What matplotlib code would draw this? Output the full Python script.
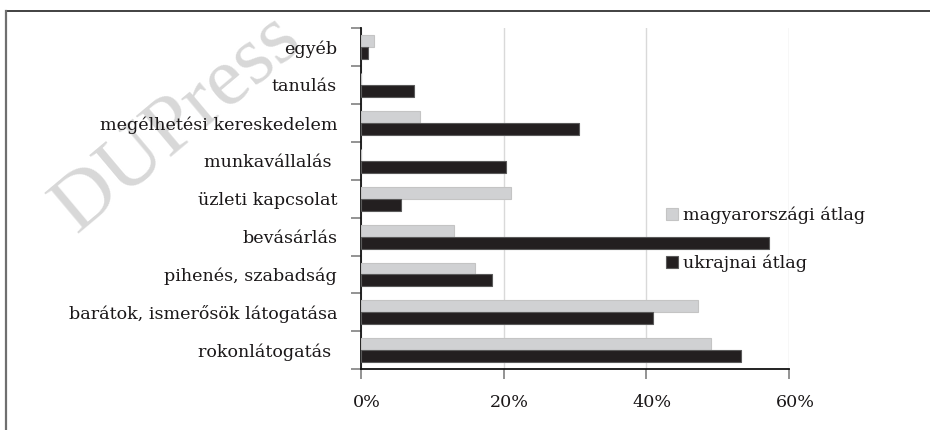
import numpy as np
import matplotlib
matplotlib.use("Agg")
import matplotlib.pyplot as plt
from matplotlib.ticker import PercentFormatter
from matplotlib.transforms import ScaledTranslation
from matplotlib.lines import Line2D

# data (percent of respondents)
categories = ["egyéb", "tanulás", "megélhetési kereskedelem", "munkavállalás ",
              "üzleti kapcsolat", "bevásárlás", "pihenés, szabadság",
              "barátok, ismerősök látogatása", "rokonlátogatás "]
magyar = [1.9, 0.0, 8.3, 0.0, 21.1, 13.0, 16.0, 47.2, 49.1]
ukran = [1.0, 7.4, 30.5, 20.3, 5.7, 57.1, 18.4, 40.9, 53.3]
series_names = ["magyarországi átlag", "ukrajnai átlag"]

plt.rcParams['font.family'] = ['DejaVu Serif']
plt.rcParams['font.size'] = 12.6

W, H = 930, 430
fig = plt.figure(figsize=(W / 100, H / 100), dpi=100)

# axes box in pixels
x0, x1, ytop, ybot = 360.7, 789.3, 28.0, 369.3
ax = fig.add_axes([x0 / W, 1 - ybot / H, (x1 - x0) / W, (ybot - ytop) / H])
ax.set_facecolor('none')

y = np.arange(len(categories))
h = 0.316
ax.barh(y - h / 2, magyar, height=h, color='#d0d1d3', edgecolor='#c4c4c4',
        linewidth=0.8, label=series_names[0], zorder=3)
ax.barh(y + h / 2, ukran, height=h, color='#231f20', edgecolor='#5a5a5a',
        linewidth=0.8, label=series_names[1], zorder=3)

ax.set_xlim(0, 60)
ax.set_ylim(len(categories) - 0.5, -0.5)

ax.set_xticks([0, 20, 40, 60])
ax.xaxis.set_major_formatter(PercentFormatter(decimals=0))
ax.grid(axis='x', color='#d9d9d9', linewidth=1.0, zorder=0)
ax.set_axisbelow(True)

ax.set_yticks(y)
ax.set_yticklabels(categories)
ax.set_yticks(np.arange(len(categories) + 1) - 0.5, minor=True)
ax.tick_params(axis='y', which='major', length=0, pad=17, labelcolor='#1a1718')
ax.tick_params(axis='y', which='minor', length=7, width=1.3, color='#8a8a8a')
ax.tick_params(axis='x', length=7, width=1.3, color='#8a8a8a', pad=10.5,
               labelcolor='#1a1718')

for lab in ax.get_xticklabels():
    lab.set_transform(lab.get_transform() + ScaledTranslation(0.06, 0, fig.dpi_scale_trans))

for side in ['top', 'right']:
    ax.spines[side].set_visible(False)
for side in ['left', 'bottom']:
    ax.spines[side].set_color('#111111')
    ax.spines[side].set_linewidth(1.3)

leg = ax.legend(loc='center left', bbox_to_anchor=((666 - x0) / (x1 - x0), (ybot - 239.5) / (ybot - ytop)),
                frameon=False, borderpad=0, borderaxespad=0, handlelength=0.67,
                handleheight=0.67, handletextpad=0.3, labelspacing=1.75,
                fontsize=12.6)
for t in leg.get_texts():
    t.set_color('#1a1718')

# outer frame
fig.add_artist(Line2D([6 / W, 1], [1 - 11 / H, 1 - 11 / H], color='#333333', linewidth=1.3))
fig.add_artist(Line2D([6 / W, 6 / W], [0, 1 - 11 / H], color='#6f6f6f', linewidth=1.6))

# watermark
fig.text(178 / W, 1 - 124 / H, "DUPress", rotation=40, rotation_mode='anchor',
         ha='center', va='center', fontsize=60, family='Liberation Serif',
         color='#d8d8d8', zorder=-1)

fig.savefig("out.png", dpi=100)
